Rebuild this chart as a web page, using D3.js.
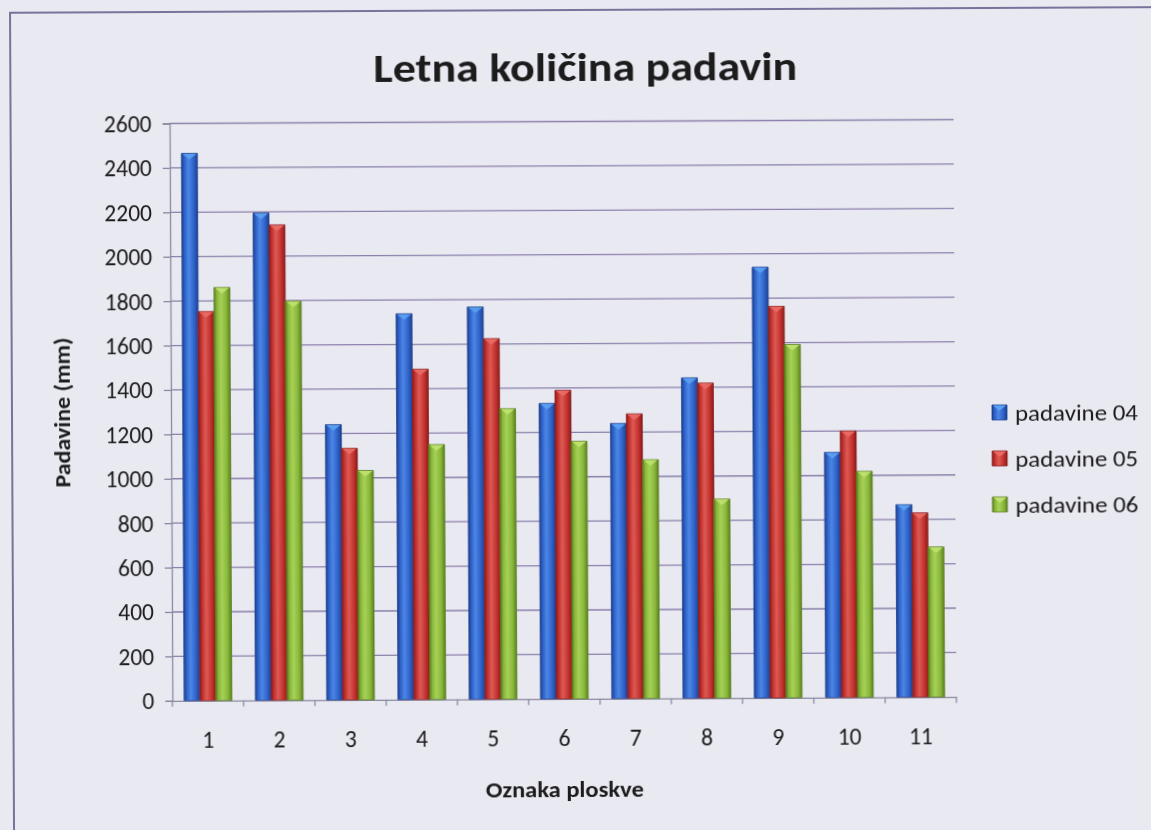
<!DOCTYPE html>
<html>
<head>
<meta charset="utf-8">
<script src="https://cdn.jsdelivr.net/npm/d3@7"></script>
<style>
  html, body { margin: 0; padding: 0; background: #e9e9f2; }
  svg { display: block; }
  text { font-family: Carlito, Calibri, Lato, "Open Sans", sans-serif; fill: #1a1a1a; }
</style>
</head>
<body>
<svg id="chart" width="1151" height="830"></svg>
<script>
// Annual precipitation per plot, three years
const categories = ["1", "2", "3", "4", "5", "6", "7", "8", "9", "10", "11"];
const seriesNames = ["padavine 04", "padavine 05", "padavine 06"];
const padavine04 = [2465, 2195, 1240, 1738, 1767, 1331, 1239, 1443, 1940, 1104, 867];
const padavine05 = [1752, 2141, 1133, 1488, 1624, 1390, 1282, 1419, 1763, 1200, 830];
const padavine06 = [1860, 1797, 1033, 1148, 1308, 1160, 1075, 896, 1591, 1018, 676];
const yTicks = [0, 200, 400, 600, 800, 1000, 1200, 1400, 1600, 1800, 2000, 2200, 2400, 2600];

const seriesValues = [padavine04, padavine05, padavine06];
const palette = [
  { dark: "#1d3f8f", mid: "#2f63c9", light: "#4c86e6", cap: "#5aa0f0" },
  { dark: "#8a1d1b", mid: "#c4322e", light: "#dc5a55", cap: "#ea6a66" },
  { dark: "#5b7f1f", mid: "#89b83a", light: "#a6d158", cap: "#bfe070" }
];
const fontStack = "Carlito, Calibri, Lato, 'Open Sans', sans-serif";

const svg = d3.select("#chart");
const W = 1151, H = 830;

const defs = svg.append("defs");
palette.forEach((c, i) => {
  const g = defs.append("linearGradient")
    .attr("id", "barGrad" + i)
    .attr("x1", "0%").attr("x2", "100%").attr("y1", "0%").attr("y2", "0%");
  g.append("stop").attr("offset", "0%").attr("stop-color", c.dark);
  g.append("stop").attr("offset", "18%").attr("stop-color", c.mid);
  g.append("stop").attr("offset", "42%").attr("stop-color", c.light);
  g.append("stop").attr("offset", "75%").attr("stop-color", c.mid);
  g.append("stop").attr("offset", "100%").attr("stop-color", c.dark);
});
defs.append("filter").attr("id", "soft")
  .append("feGaussianBlur").attr("stdDeviation", 0.45);

// whole page sits slightly tilted
const root = svg.append("g")
  .attr("transform", `rotate(-0.28, ${W / 2}, ${H / 2})`)
  .attr("filter", "url(#soft)");

// outer frame
root.append("rect")
  .attr("x", 12).attr("y", 10).attr("width", W + 20).attr("height", H + 20)
  .attr("fill", "none").attr("stroke", "#77739a").attr("stroke-width", 2);

const plotLeft = 171, plotRight = 955, plotTop = 121.5, plotBottom = 698.8;

const x = d3.scaleBand().domain(categories)
  .range([plotLeft, plotRight]).paddingInner(0.33).paddingOuter(0.165);
const xs = d3.scaleBand().domain(seriesNames).range([0, x.bandwidth()]);
const y = d3.scaleLinear().domain([0, 2600]).range([plotBottom, plotTop]);

// horizontal gridlines
root.append("g").selectAll("line")
  .data(yTicks.filter(t => t > 0))
  .join("line")
  .attr("x1", plotLeft).attr("x2", plotRight)
  .attr("y1", d => y(d)).attr("y2", d => y(d))
  .attr("stroke", "#8a80aa").attr("stroke-width", 1.3);

// y axis
const yAxis = root.append("g")
  .attr("transform", `translate(${plotLeft},0)`)
  .call(d3.axisLeft(y).tickValues(yTicks).tickSize(7).tickPadding(11).tickFormat(d3.format("d")));
yAxis.select(".domain").attr("stroke", "#8a8aa0").attr("stroke-width", 1.3);
yAxis.selectAll(".tick line").attr("stroke", "#8a8aa0").attr("stroke-width", 1.3);
yAxis.selectAll(".tick text").attr("font-size", 23.5).attr("fill", "#1a1a1a")
  .attr("dy", "0.34em")
  .style("font-family", fontStack);

// x axis
const xAxis = root.append("g")
  .attr("transform", `translate(0,${plotBottom})`)
  .call(d3.axisBottom(x).tickSize(0).tickPadding(31));
xAxis.select(".domain").attr("stroke", "#8a8aa0").attr("stroke-width", 1.3);
xAxis.selectAll(".tick text").attr("font-size", 23.5).attr("fill", "#1a1a1a")
  .style("font-family", fontStack);
// tick marks at category boundaries
const step = x.step();
root.append("g").selectAll("line")
  .data(d3.range(categories.length + 1))
  .join("line")
  .attr("x1", i => plotLeft + i * step).attr("x2", i => plotLeft + i * step)
  .attr("y1", plotBottom).attr("y2", plotBottom + 6)
  .attr("stroke", "#8a8aa0").attr("stroke-width", 1.3);

// bars
const barData = [];
categories.forEach((cat, ci) => {
  seriesNames.forEach((s, si) => {
    barData.push({ cat, series: s, si, value: seriesValues[si][ci] });
  });
});

const bars = root.append("g").selectAll("g")
  .data(barData)
  .join("g");

bars.append("rect")
  .attr("x", d => x(d.cat) + xs(d.series))
  .attr("y", d => y(d.value))
  .attr("width", xs.bandwidth())
  .attr("height", d => plotBottom - y(d.value))
  .attr("fill", d => `url(#barGrad${d.si})`)
  .attr("stroke", d => palette[d.si].dark)
  .attr("stroke-width", 0.8);

// bevelled top facet
bars.append("path")
  .attr("d", d => {
    const x0 = x(d.cat) + xs(d.series), w = xs.bandwidth(), t = y(d.value);
    return `M${x0 + 1},${t + 0.5} L${x0 + w - 1},${t + 0.5} L${x0 + w / 2},${t + 6} Z`;
  })
  .attr("fill", d => palette[d.si].cap)
  .attr("opacity", 0.95);

// title
root.append("text")
  .attr("x", 587).attr("y", 81)
  .attr("text-anchor", "middle")
  .attr("font-size", 41).attr("font-weight", "bold")
  .attr("textLength", 424).attr("lengthAdjust", "spacingAndGlyphs")
  .text("Letna količina padavin");

// axis titles
root.append("text")
  .attr("transform", `translate(70,410) rotate(-90)`)
  .attr("text-anchor", "middle")
  .attr("font-size", 22).attr("font-weight", "bold")
  .attr("textLength", 150).attr("lengthAdjust", "spacingAndGlyphs")
  .text("Padavine (mm)");

root.append("text")
  .attr("x", 563).attr("y", 797)
  .attr("text-anchor", "middle")
  .attr("font-size", 23).attr("font-weight", "bold")
  .attr("textLength", 158).attr("lengthAdjust", "spacingAndGlyphs")
  .text("Oznaka ploskve");

// legend
const legend = root.append("g").attr("transform", "translate(992,412)");
const li = legend.selectAll("g").data(seriesNames).join("g")
  .attr("transform", (d, i) => `translate(0,${i * 46})`);
li.append("rect")
  .attr("x", 0).attr("y", -5).attr("width", 15).attr("height", 15)
  .attr("fill", (d, i) => `url(#barGrad${i})`)
  .attr("stroke", (d, i) => palette[i].dark).attr("stroke-width", 0.8);
li.append("path")
  .attr("d", "M1,-4.5 L14,-4.5 L7.5,1 Z")
  .attr("fill", (d, i) => palette[i].cap);
li.append("text")
  .attr("x", 23).attr("y", 11)
  .attr("font-size", 23)
  .attr("textLength", 123).attr("lengthAdjust", "spacingAndGlyphs")
  .text(d => d);
</script>
</body>
</html>
